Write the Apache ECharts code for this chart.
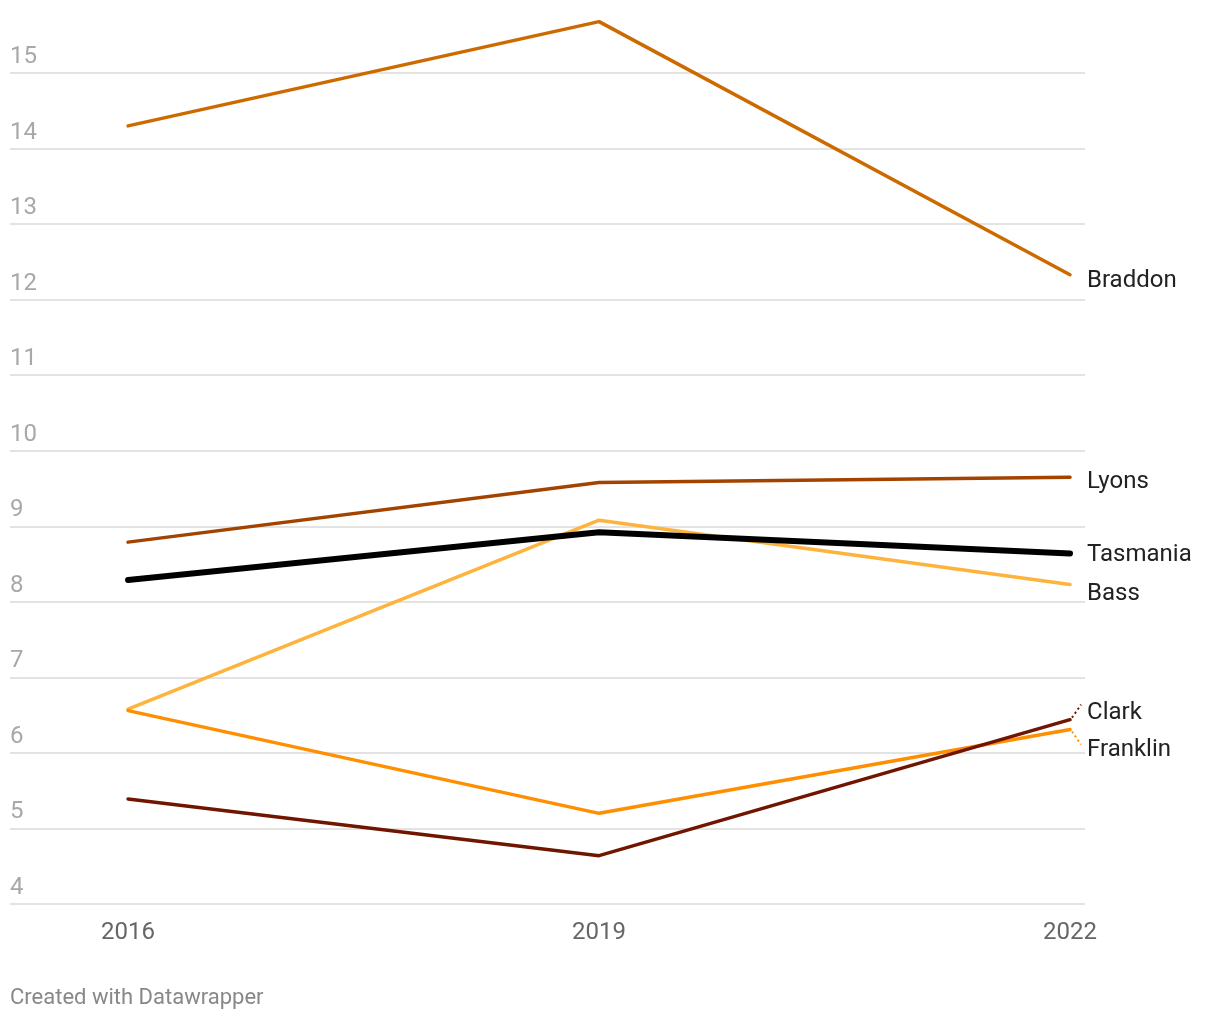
<!DOCTYPE html>
<html>
<head>
<meta charset="utf-8">
<script src="https://cdn.jsdelivr.net/npm/echarts@6/dist/echarts.min.js"></script>
<style>
html,body{margin:0;padding:0;background:#fff;}
#c{width:1220px;height:1020px;}
</style>
</head>
<body>
<div id="c"></div>
<script>
const years = [2016, 2019, 2022];
const braddon  = [14.30, 15.68, 12.33];
const lyons    = [8.79, 9.58, 9.65];
const bass     = [6.58, 9.08, 8.23];
const franklin = [6.56, 5.20, 6.31];
const clark    = [5.39, 4.64, 6.44];
const tasmania = [8.29, 8.92, 8.64];
const yMin = 4, yMax = 15;

const FONT = 'Roboto, "Noto Sans", sans-serif';

function pts(vals){ return years.map((y,i)=>[y, vals[i]]); }

function lineSeries(name, vals, color, width, dy){
  return {
    type:'line', name:name, data:pts(vals), symbol:'none', clip:false,
    lineStyle:{color:color, width:width, cap:'round', join:'round'},
    itemStyle:{color:color},
    emphasis:{disabled:true}, silent:true,
    endLabel:{show:true, formatter:name, distance:17, offset:[0,dy],
      color:'#222', fontSize:24, fontFamily:FONT},
    z: name==='Tasmania'?5:2
  };
}

function connector(vals, color, dir){
  return {
    type:'custom', silent:true, z:1,
    data:[[years[years.length-1], vals[vals.length-1]]],
    renderItem:function(params, api){
      const p = api.coord([api.value(0), api.value(1)]);
      return {type:'line',
        shape:{x1:p[0]+2, y1:p[1]+dir*2, x2:p[0]+11, y2:p[1]+dir*15},
        style:{stroke:color, lineWidth:2, lineDash:[2,3], fill:null}};
    }
  };
}

const chart = echarts.init(document.getElementById('c'), null, {renderer:'canvas'});
chart.setOption({
  animation:false,
  backgroundColor:'#fff',
  grid:{left:10, right:135, top:73, bottom:116, containLabel:false},
  xAxis:{
    type:'value', min:2015.248, max:2022.0955,
    splitLine:{show:false}, axisLine:{show:false}, axisTick:{show:false},
    axisLabel:{customValues:years, formatter:v=>String(v), color:'#666',
      fontSize:24, fontFamily:FONT, margin:17}
  },
  yAxis:{
    type:'value', min:yMin, max:yMax, interval:1,
    axisLine:{show:false}, axisTick:{show:false},
    splitLine:{lineStyle:{color:'#e3e3e3', width:2}},
    axisLabel:{inside:true, margin:0, verticalAlign:'bottom', padding:[0,0,4,0],
      color:'#a8a8a8', fontSize:24, fontFamily:FONT}
  },
  series:[
    lineSeries('Braddon', braddon, '#cc6a00', 3.5, 6),
    lineSeries('Lyons', lyons, '#a34300', 3.5, 5),
    lineSeries('Bass', bass, '#feb43c', 3.5, 10),
    lineSeries('Franklin', franklin, '#ff8f00', 3.5, 21),
    lineSeries('Clark', clark, '#701500', 3.5, -7),
    lineSeries('Tasmania', tasmania, '#000000', 6, 2),
    connector(clark, '#701500', -1),
    connector(franklin, '#ff8f00', 1)
  ],
  graphic:[{type:'text', left:10, top:987,
    style:{text:'Created with Datawrapper', fill:'#888', fontSize:22, fontFamily:FONT}}]
});
</script>
</body>
</html>
